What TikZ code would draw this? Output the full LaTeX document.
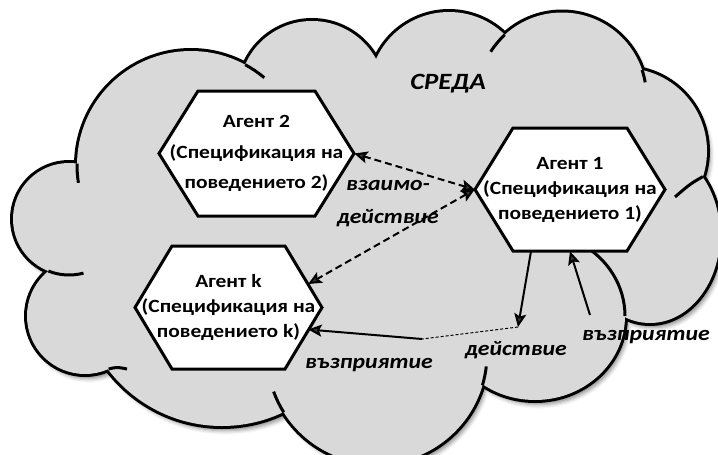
\documentclass[tikz,border=0pt]{standalone}
\usepackage{fontspec}
\setmainfont{Carlito}[FakeStretch=1.15]
\usepackage{tikz}
\usetikzlibrary{arrows.meta}
\usetikzlibrary{calc}
\usetikzlibrary{shadows.blur}

\definecolor{cloudgray}{RGB}{217,217,217}

\newcommand{\cloudpath}{(69,219) circle (56) (191,165) circle (114) (312,94) circle (73) (449,92) circle (80) (562,97) circle (84.5) (624,151) circle (83) (650,235) ellipse (70 and 88) (535,316) ellipse (90 and 84) (377,354) circle (110) (222,283) circle (143) (85,316) circle (58) (400,230) circle (125)}

\tikzset{
  >={Stealth[length=10pt,width=9pt,inset=2pt]},
  agent/.style={inner sep=0pt, align=center, minimum height=92.25pt, font=\fontsize{14}{18.75}\selectfont\bfseries},
  hexline/.style={line width=2.25pt, fill=white, line join=miter},
  stub/.style={line width=2.25pt},
  lbl/.style={inner sep=0.75pt, font=\fontsize{15.5}{18}\selectfont\bfseries\itshape},
  dasharr/.style={line width=1.5pt, dash pattern=on 5.25pt off 3pt, <->},
  solarr/.style={line width=1.5pt, ->}
}

\begin{document}
\begin{tikzpicture}[x=0.75pt,y=0.75pt,yscale=-1,xscale=1]
\useasboundingbox (0,0) rectangle (718,454);
\clip (0,0) rectangle (718,454);
\path [blur shadow={shadow xshift=2.5pt, shadow yshift=-3.5pt, shadow blur radius=3pt, shadow opacity=45}] \cloudpath ;
\draw [line width=4.5pt] \cloudpath ;
\fill [cloudgray] \cloudpath ;
\draw [stub] (191,165) ++(180.7:114) arc [start angle=180.7, end angle=171, radius=114] ;
\draw [stub] (191,165) ++(-61.6:114) arc [start angle=-61.6, end angle=-50, radius=114] ;
\draw [stub] (562,97) ++(227.4:84.5) arc [start angle=227.4, end angle=212.4, radius=84.5] ;
\draw [stub] (562,97) ++(-18.6:84.5) arc [start angle=-18.6, end angle=-10, radius=84.5] ;
\draw [stub] (702.9,176.6) .. controls (690,184) .. (675,197) ;
\draw [stub] (535,316) ++(-60:90 and 84) arc [start angle=-60, end angle=0, x radius=90, y radius=84] ;
\draw [stub] (377,354) ++(16.5:110) arc [start angle=16.5, end angle=6.5, radius=110] ;
\draw [stub] (377,354) ++(148:110) arc [start angle=148, end angle=160, radius=110] ;
\draw [stub] (108.6,369) .. controls (117,367) .. (127,369) ;
\draw [stub] (69,219) ++(111.6:56) arc [start angle=111.6, end angle=75, radius=56] ;

\draw [hexline] (159,153.5) -- (198,91) -- (315,91) -- (354,153.5) -- (315,216) -- (198,216) -- cycle ;
\draw [hexline] (475,189.5) -- (513,128) -- (627,128) -- (665,189.5) -- (627,251) -- (513,251) -- cycle ;
\draw [hexline] (135,307.5) -- (172,246) -- (285,246) -- (322,307.5) -- (285,369) -- (172,369) -- cycle ;

\draw (256.5,153.5) node (ag2) [agent] [minimum width=146.25pt] [font=\fontsize{14}{23}\selectfont\bfseries] {Агент 2\\(Спецификация на\\поведението 2)};
\draw (570,189.5) node (ag1) [agent] [minimum width=142.5pt] {Агент 1\\(Спецификация на\\поведението 1)};
\draw (228.5,307.5) node (agk) [agent] [minimum width=140.25pt] {Агент k\\(Спецификация на\\поведението k)};

\coordinate (act) at (518,327) ;
\coordinate (pk) at (422,339) ;
\coordinate (p1) at (590,315) ;

\draw [dasharr] (ag2.east) -- (ag1.west) ;
\draw [dasharr] (ag1.west) -- ($(agk.east)+(-14,-23.5)$) ;
\draw [solarr] ($(ag1.south)+(-39,0)$) -- (act) ;
\draw [line width=0.75pt, dash pattern=on 2.25pt off 1.5pt] (act) -- (pk) ;
\draw [solarr] (pk) -- ($(agk.east)+(-14,22)$) ;
\draw [solarr] (p1) -- (ag1.south) ;

\draw (448,89) node (env) [anchor=base] [lbl] [font=\fontsize{17.5}{20}\selectfont\bfseries\itshape] {СРЕДА};
\draw (388,190) node (inter1) [anchor=base] [lbl] {взаимо-};
\draw (388,223) node (inter2) [anchor=base] [lbl] {действие};
\draw (516,355) node (actlbl) [anchor=base] [lbl] {действие};
\draw (369,368) node (perck) [anchor=base] [lbl] {възприятие};
\draw (646,340) node (perc1) [anchor=base] [lbl] {възприятие};
\end{tikzpicture}
\end{document}
